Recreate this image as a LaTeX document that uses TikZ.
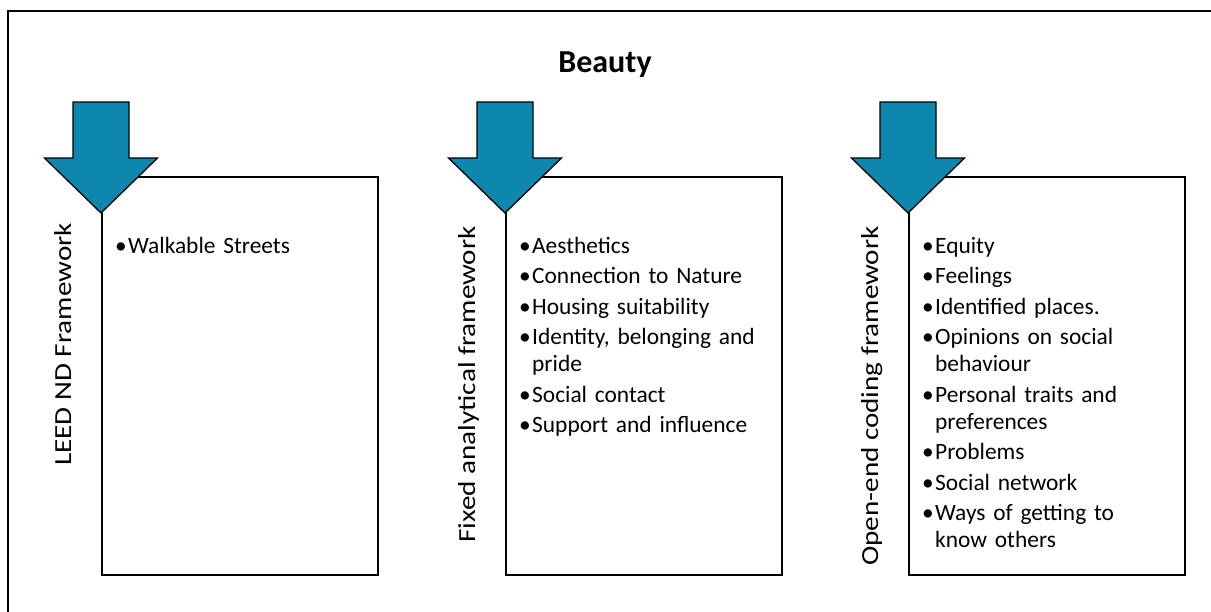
\documentclass[tikz,border=0pt]{standalone}
\usepackage{fontspec}
\setmainfont{Carlito}
\usepackage{graphicx}
\usetikzlibrary{positioning}
\definecolor{arrowblue}{RGB}{14,135,174}
\tikzset{
  catbox/.style={draw,line width=1.7pt,minimum width=276pt,minimum height=398pt,
    anchor=north west,inner sep=0pt},
  downarrow/.style={draw,line width=1.3pt,fill=arrowblue,line join=miter},
  itemlist/.style={anchor=north west,inner sep=0pt,text width=250pt,align=left,
    font=\fontsize{23.4}{27}\selectfont},
  sidelabel/.style={rotate=90,anchor=base east,inner sep=0pt,
    font=\fontsize{24.5}{29}\selectfont}
}
\newcommand{\bul}[1]{\par\hangindent=13pt\hangafter=1\noindent\strut
  \makebox[13pt][l]{\textbullet}#1\par\vspace{3.5pt}}
\newcommand{\sidetext}[1]{\scalebox{1.19}[1]{#1}}
\begin{document}
\begin{tikzpicture}[x=1pt,y=-1pt]
\useasboundingbox (0,0) rectangle (1211,611);
\draw[line width=1.7pt] (1220,11) -- (8,11) -- (8,620);
\node[anchor=base,font=\bfseries\fontsize{32}{38}\selectfont] (title) at (605,72) {Beauty};
% the three columns
\node[catbox] (leed) at (101,176) {};
\node[catbox] (fixed) at (505,176) {};
\node[catbox] (open) at (908,176) {};
\foreach \col in {leed,fixed,open}
  \draw[downarrow] (\col.north west) ++(0,37) -- ++(-56.5,-55) -- ++(28.5,0)
    -- ++(0,-56) -- ++(56,0) -- ++(0,56) -- ++(28.5,0) -- cycle;
\node[sidelabel] (leedlab) at ([shift={(-30,47)}]leed.north west) {\sidetext{LEED ND Framework}};
\node[sidelabel] (fixedlab) at ([shift={(-30,50)}]fixed.north west) {\sidetext{Fixed analytical framework}};
\node[sidelabel] (openlab) at ([shift={(-30,50)}]open.north west) {\sidetext{Open-end coding framework}};
\node[itemlist] (leedlist) at ([shift={(14,50)}]leed.north west) {\bul{Walkable Streets}};
\node[itemlist] (fixedlist) at ([shift={(14,50)}]fixed.north west) {%
  \bul{Aesthetics}\bul{Connection to Nature}\bul{Housing suitability}%
  \bul{Identity, belonging and\newline pride}\bul{Social contact}%
  \bul{Support and influence}};
\node[itemlist] (openlist) at ([shift={(14,50)}]open.north west) {%
  \bul{Equity}\bul{Feelings}\bul{Identified places.}%
  \bul{Opinions on social\newline behaviour}\bul{Personal traits and\newline preferences}%
  \bul{Problems}\bul{Social network}\bul{Ways of getting to\newline know others}};
\end{tikzpicture}
\end{document}
